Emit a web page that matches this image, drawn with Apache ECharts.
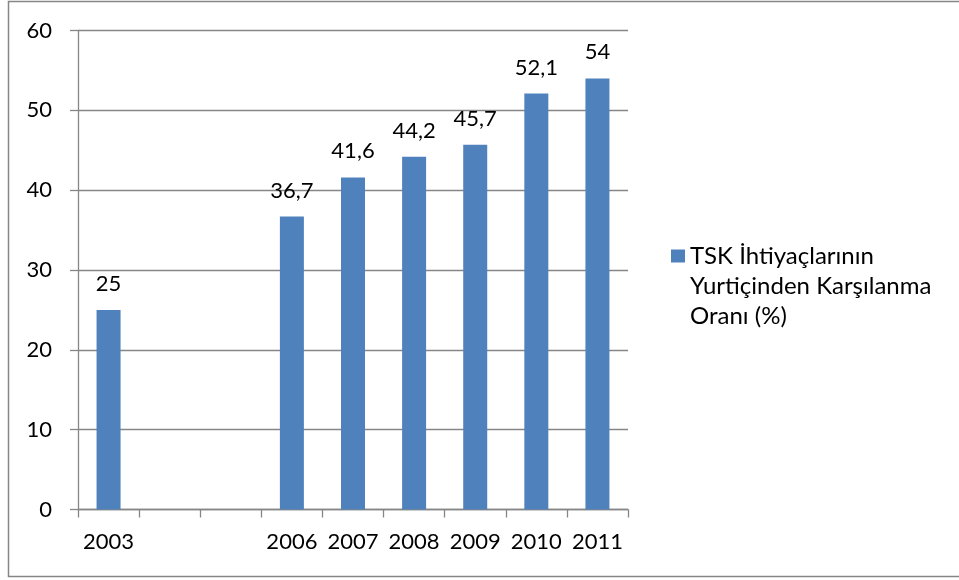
<!DOCTYPE html>
<html><head><meta charset="utf-8">
<script src="https://cdn.jsdelivr.net/npm/echarts@6/dist/echarts.min.js"></script>
<style>html,body{margin:0;padding:0;background:#fff}#c{width:959px;height:580px}</style>
</head><body><div id="c"></div>
<script>
const categories = ['2003', '', '', '2006', '2007', '2008', '2009', '2010', '2011'];
const values = [25, null, null, 36.7, 41.6, 44.2, 45.7, 52.1, 54];
const seriesName = 'TSK İhtiyaçlarının\nYurtiçinden Karşılanma\nOranı (%)';
const yTicks = { min: 0, max: 60, interval: 10 };

const FONT = 'Lato';
const chart = echarts.init(document.getElementById('c'), null, { renderer: 'canvas' });
chart.setOption({
  animation: false,
  backgroundColor: '#fff',
  textStyle: { fontFamily: FONT },
  graphic: [{
    type: 'rect', silent: true,
    shape: { x: 8.5, y: 1.5, width: 960, height: 575 },
    style: { fill: 'none', stroke: '#868686', lineWidth: 1.5 }
  }],
  grid: { left: 78, right: 331, top: 30.5, bottom: 70.5, containLabel: false },
  legend: {
    left: 671, top: 241, padding: 0, orient: 'vertical',
    itemWidth: 14, itemHeight: 73,
    icon: 'path://M0 0H14V13H0Z M0 73L0.01 73Z',
    textStyle: { fontFamily: FONT, fontSize: 24, lineHeight: 30, color: '#000' },
    data: [seriesName]
  },
  xAxis: {
    type: 'category', data: categories, boundaryGap: true,
    axisLine: { lineStyle: { color: '#868686', width: 1.3 } },
    axisTick: { show: true, length: 8, inside: false, lineStyle: { color: '#868686', width: 1.3 } },
    axisLabel: { color: '#000', fontSize: 22, fontFamily: FONT, margin: 21, interval: 0 }
  },
  yAxis: {
    type: 'value', min: yTicks.min, max: yTicks.max, interval: yTicks.interval,
    axisLine: { show: true, lineStyle: { color: '#868686', width: 1.3 } },
    axisTick: { show: true, length: 8, lineStyle: { color: '#868686', width: 1.3 } },
    splitLine: { show: true, lineStyle: { color: '#868686', width: 1.3 } },
    axisLabel: { color: '#000', fontSize: 22, fontFamily: FONT, margin: 26 }
  },
  series: [{
    name: seriesName, type: 'bar', data: values, barWidth: 24,
    itemStyle: { color: '#4F81BD' },
    label: {
      show: true, position: 'top', distance: 15, color: '#000', fontSize: 22, fontFamily: FONT,
      formatter: p => String(p.value).replace('.', ',')
    }
  }]
});
</script></body></html>
